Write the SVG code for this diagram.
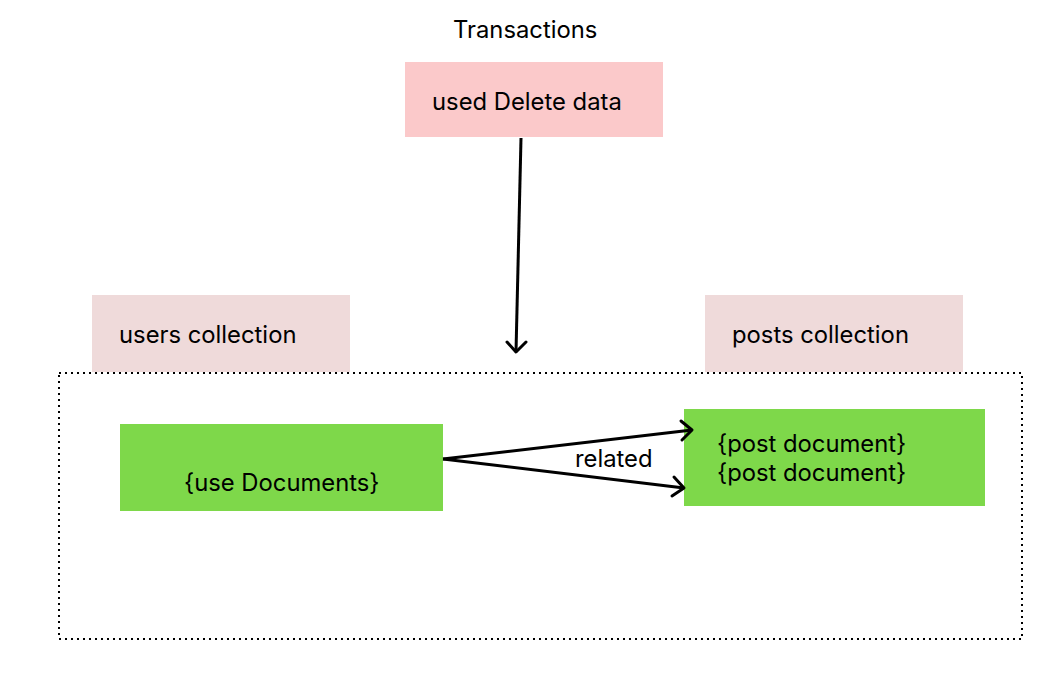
<svg xmlns="http://www.w3.org/2000/svg" width="1049" height="680" viewBox="0 0 1049 680">
<style>
text{font-family:Inter,"Liberation Sans",sans-serif;font-size:23.8px;fill:#000}
.conn{stroke:#000;stroke-width:3;fill:none}
.head{stroke:#000;stroke-width:3;fill:none;stroke-linecap:round;stroke-linejoin:round}
</style>
<rect width="1049" height="680" fill="#fff"/>
<text x="453" y="38">Transactions</text>
<g id="delete"><rect x="405" y="62" width="258" height="75" fill="#fbc9ca"/><text x="432" y="110">used Delete data</text></g>
<g id="users"><rect x="92" y="295" width="258" height="77" fill="#efdada"/><text x="119" y="343">users collection</text></g>
<g id="posts"><rect x="705" y="295" width="258" height="77" fill="#efdada"/><text x="732" y="343">posts collection</text></g>
<g id="container"><rect x="59" y="373" width="963" height="266" fill="none" stroke="#000" stroke-width="2" stroke-dasharray="2 4"/></g>
<g id="userdoc"><rect x="120" y="424" width="323" height="87" fill="#7ed84a"/><text x="184" y="491">{use Documents}</text></g>
<g id="postdoc"><rect x="684" y="409" width="301" height="97" fill="#7ed84a"/><text x="717" y="452">{post document}</text><text x="717" y="481">{post document}</text></g>
<g id="connectors">
<path class="conn" d="M521 138 L516 352"/>
<path class="head" d="M507 342 L516 352 L526 342"/>
<path class="conn" d="M443 459 L692 430"/>
<path class="head" d="M681 421 L692 430 L682 440"/>
<path class="conn" d="M443 459 L684 488"/>
<path class="head" d="M674 477 L684 488 L672 496"/>
<text x="575" y="467">related</text>
</g>
</svg>
